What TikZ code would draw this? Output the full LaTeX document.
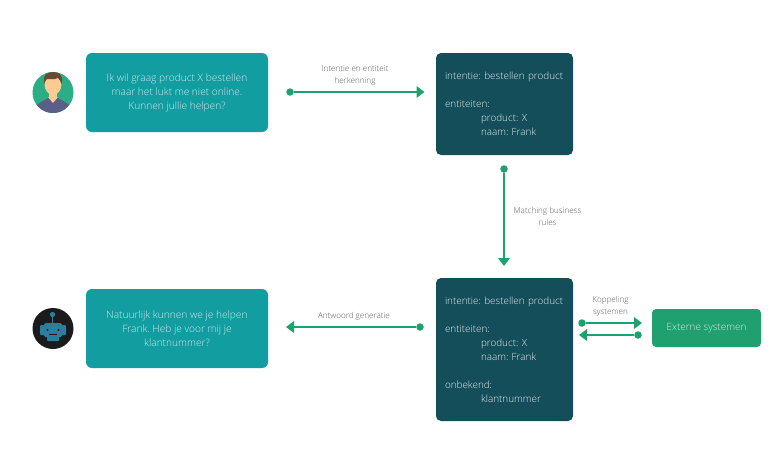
\documentclass[tikz,border=0pt]{standalone}
\usepackage{fontspec}
\setmainfont{Open Sans}[UprightFont=* Light]
\usetikzlibrary{arrows.meta,calc}
\definecolor{teal1}{HTML}{129DA1}
\definecolor{dark1}{HTML}{134E5A}
\definecolor{green1}{HTML}{21A06F}
\definecolor{lab}{HTML}{5F5F5F}
\definecolor{txt}{HTML}{CFE9EA}
\definecolor{shirt}{HTML}{5A5F87}
\definecolor{skin}{HTML}{FBCB94}
\definecolor{hair}{HTML}{6B4A33}
\definecolor{botbg}{HTML}{1B1B1D}
\definecolor{bot}{HTML}{2C7E9E}
\definecolor{usergreen}{HTML}{2BAE85}
\tikzset{
 boxtxt/.style={inner sep=0pt,outer sep=0pt},
 chat/.style={boxtxt,font=\fontsize{10.15}{14}\selectfont,fill=teal1,rounded corners=6pt,text=txt,align=center,minimum width=182pt,minimum height=79pt},
 info/.style={boxtxt,font=\fontsize{9.9}{14}\selectfont,fill=dark1,rounded corners=5pt,text=white!88!dark1,align=left,minimum width=137pt,text width=119pt},
 ext/.style={boxtxt,font=\fontsize{9.95}{14}\selectfont,fill=green1,rounded corners=4pt,text=txt,align=center,minimum width=109pt,minimum height=38pt},
 lbl/.style={text=lab,font=\fontsize{8.1}{12}\selectfont,align=center,inner sep=0pt},
 dot/.style={circle,fill=green1,inner sep=0pt,minimum size=7.5pt},
 flow/.style={draw=green1,line width=2.6pt,-{Triangle[length=8pt,width=11.5pt]}},
}
\newcommand{\ind}{\hspace*{36pt}}
\frenchspacing
\begin{document}
\begin{tikzpicture}[x=1pt,y=-1pt]
\useasboundingbox (0,0) rectangle (770,448);
\fill[white] (0,0) rectangle (770,448);
% boxes
\node[chat] (q) at (177,92.5) {Ik wil graag product X bestellen\\maar het lukt me niet online.\\Kunnen jullie helpen?};
\node[chat] (a) at (177,328.5) {Natuurlijk kunnen we je helpen\\Frank. Heb je voor mij je\\klantnummer?};
\node[info,minimum height=102pt] (i1) at (504.5,104) {intentie: bestellen product\\\strut\\entiteiten:\\\ind product: X\\\ind naam: Frank};
\node[info,minimum height=143pt] (i2) at (504.5,349.5) {intentie: bestellen product\\\strut\\entiteiten:\\\ind product: X\\\ind naam: Frank\\\strut\\onbekend:\\\ind klantnummer};
\node[ext] (e) at (706.5,328) {Externe systemen};
% connectors
\node[dot] (d1) at (290,92) {};
\coordinate (t1) at (424.5,92);
\draw[flow] (d1) -- (t1);
\node[lbl] (l1) at (355,76) {Intentie en entiteit\\herkenning};
\node[dot] (d2) at (504,169) {};
\coordinate (t2) at (504,266);
\draw[flow] (d2) -- (t2);
\node[lbl] (l2) at (547.5,216) {Matching business\\rules};
\node[dot] (d3) at (420,327) {};
\coordinate (t3) at (286,327);
\draw[flow] (d3) -- (t3);
\node[lbl] (l3) at (354,316) {Antwoord generatie};
\node[dot] (d4) at (582,323) {};
\coordinate (t4) at (642,323);
\draw[flow] (d4) -- (t4);
\node[dot] (d5) at (638,335) {};
\coordinate (t5) at (579,335);
\draw[flow] (d5) -- (t5);
\node[lbl] (l4) at (610.5,306.5) {Koppeling\\systemen};
% user avatar
\begin{scope}
\fill[usergreen] (53,92.5) circle (20.5);
\clip (53,92.5) circle (20.5);
\fill[shirt] (34,113) -- (37,105) .. controls (41,101) and (46,100) .. (49,97) -- (57,97) .. controls (60,100) and (65,101) .. (69,105) -- (72,113) -- cycle;
\fill[skin] (49,90) rectangle (57,98);
\fill[skin] (53,103) -- (48,97) -- (58,97) -- cycle;
\fill[skin] (53,84) ellipse (8.5 and 11);
\fill[hair] (44.5,84) .. controls (42,75) and (47,72) .. (53,72) .. controls (59,72) and (64,75) .. (61.5,84) .. controls (60.5,81) and (60,80) .. (58,78) .. controls (54,80) and (49,79) .. (47,79) .. controls (45.5,80) and (45,82) .. (44.5,84) -- cycle;
\end{scope}
% robot avatar
\fill[botbg] (53,328.5) circle (20.5);
\fill[bot] (51.6,316) rectangle (53.4,324);
\fill[bot] (52.5,314.5) circle (2.6);
\fill[bot,rounded corners=1.5pt] (44,323) rectangle (62,337);
\fill[bot,rounded corners=1pt] (47,336) rectangle (59,341);
\fill[bot,rounded corners=1pt] (40,325) rectangle (44.5,335);
\fill[bot,rounded corners=1pt] (61.5,325) rectangle (66,335);
\fill[botbg] (47.5,330) circle (1.2);
\fill[botbg] (58.5,330) circle (1.2);
\fill[botbg] (49,334) rectangle (57,335);
\end{tikzpicture}
\end{document}
